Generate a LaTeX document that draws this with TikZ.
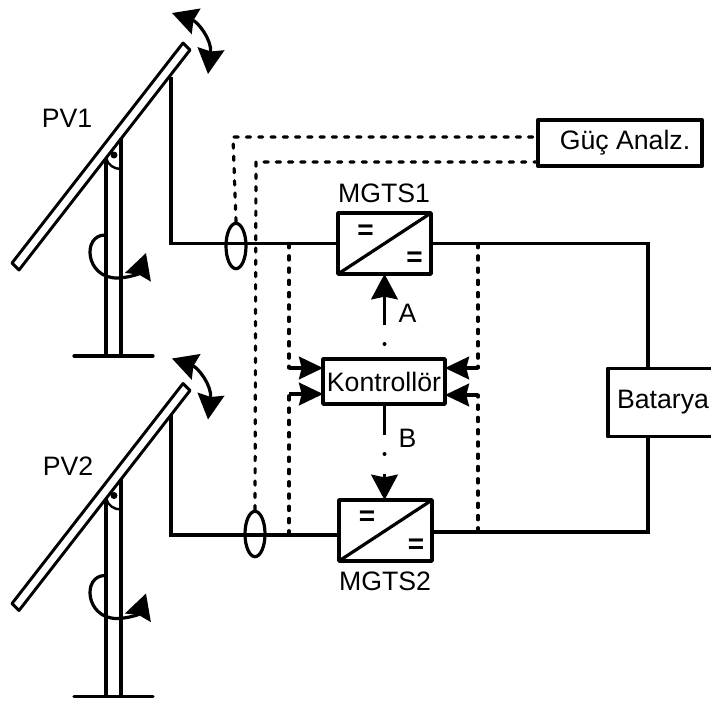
\documentclass[tikz,border=0pt]{standalone}
\usepackage{xcolor}
\usepackage{fontspec}
\setmainfont{Liberation Sans}
\usetikzlibrary{arrows.meta, shapes.geometric}

\tikzset{
    wire/.style={line width=2.4pt},
    sense/.style={line width=2.4pt, line cap=round, dash pattern=on 3.2pt off 6pt},
    bigtip/.style={-{Stealth[length=19pt, width=20pt, inset=2pt]}},
    sidetip/.style={-{Stealth[length=18pt, width=17pt, inset=2pt]}},
    block/.style={draw, line width=2.8pt, line join=round, fill=white, inner sep=0pt, outer sep=0pt, font=\fontsize{20}{20}\selectfont},
    label/.style={font=\fontsize{20}{20}\selectfont, inner sep=0pt},
    eqmark/.style={font=\fontsize{21}{21}\selectfont\bfseries, inner sep=0pt},
    sensor/.style={draw, wire, ellipse, minimum width=15pt, minimum height=34pt, inner sep=0pt}
}

\begin{document}
\begin{tikzpicture}[x=0.75pt, y=-0.75pt]
    \useasboundingbox (0,0) rectangle (711,704);

    % the two panels with their stands
    \foreach \dy/\da in {0/0,340.5/345.5} {
        \draw[wire, line width=2.2pt, line join=round] (183,43+\dy) -- (190,50+\dy) -- (19,270+\dy) -- (12,263+\dy) -- cycle;
        \draw[wire] (106,158+\dy) -- (106,356+\dy);
        \draw[wire] (121,138+\dy) -- (121,356+\dy);
        \draw[wire, line cap=round] (74,356+\dy) -- (153,356+\dy);
        \draw[line width=1.8pt] (106,158+\dy) .. controls (108,165+\dy) and (114,169+\dy) .. (121,169+\dy);
        \fill (114,155+\dy) circle (3.5);
        \draw[wire, bigtip] (105,235+\dy) .. controls (82,235+\dy) and (85,278+\dy) .. (117,278+\dy)
            .. controls (127,278+\dy) and (139,274+\dy) .. (146,253+\dy);
        \draw[wire, {Stealth[length=19pt, width=20pt, inset=2pt]}-{Stealth[length=19pt, width=20pt, inset=2pt]}]
            (172,13+\da) .. controls (198,22+\da) and (212,40+\da) .. (208,74+\da);
    }

    \node[label] (PV1) at (67,118) {PV1};
    \node[label] (PV2) at (68,466) {PV2};

    % blocks
    \node[block, minimum width=69.75pt, minimum height=45.75pt] (mgts1) at (384.5,243.5) {};
    \node[block, minimum width=69.75pt, minimum height=45.75pt] (mgts2) at (385.5,530.5) {};
    \node[block, minimum width=91.5pt, minimum height=33.75pt] (ctrl) at (384,381.5) {Kontrollör};
    \node[block, minimum width=123pt, minimum height=35pt] (guc) at (620,143) {\hspace{7.5pt}Güç Analz.};
    \node[block, minimum width=83pt, minimum height=51pt] (bat) at (663,402.5) {Batarya};

    \draw[wire] (mgts1.south west) -- (mgts1.north east);
    \draw[wire] (mgts2.south west) -- (mgts2.north east);
    \node[eqmark] (eq1a) at (365.5,232) {=};
    \node[eqmark] (eq1b) at (414.5,259) {=};
    \node[eqmark] (eq2a) at (367,518) {=};
    \node[eqmark] (eq2b) at (416,546) {=};

    \node[label] (mgtsa) at (384,193.5) {MGTS1};
    \node[label] (mgtsb) at (385,581.5) {MGTS2};
    \node[label] (sigA) at (407.5,313.5) {A};
    \node[label] (sigB) at (407.5,438) {B};

    % power wires
    \coordinate (top1) at (171,77);
    \coordinate (top2) at (171,415);
    \coordinate (batx) at (648,300);
    \coordinate (wl) at (300,535);
    \coordinate (wr) at (460,532);
    \draw[wire] (top1) |- (mgts1.west);
    \draw[wire] (top2) |- (mgts2.west |- wl);
    \draw[wire, line width=2.8pt] (mgts1.east) -| (batx |- bat.north);
    \draw[wire, line width=2.8pt] (mgts2.east |- wr) -| (batx |- bat.south);

    % current sensors
    \node[sensor] (ct1) at (236,246) {};
    \node[sensor] (ct2) at (255,534) {};

    % measuring lines
    \coordinate (gua) at (233,137);
    \coordinate (gub) at (256,162);
    \draw[sense] (ct1.north) -- (gua) -- (gua -| guc.west);
    \draw[sense] (ct2.north) -- (gub) -- (gub -| guc.west);

    % inputs of the controller
    \coordinate (la) at (289,368);
    \coordinate (lb) at (289,394);
    \coordinate (ra) at (478,368);
    \coordinate (rb) at (478,395);
    \draw[sense] (la |- mgts1.west) -- (la);
    \draw[sense] (lb |- wl) -- (lb);
    \draw[sense] (ra |- mgts1.east) -- (ra);
    \draw[sense] (rb |- wr) -- (rb);
    \draw[wire, sidetip] (la) -- (la -| ctrl.west);
    \draw[wire, sidetip] (lb) -- (lb -| ctrl.west);
    \draw[wire, sidetip] (ra) -- (ra -| ctrl.east);
    \draw[wire, sidetip] (rb) -- (rb -| ctrl.east);

    % control signals
    \coordinate (a1) at (384.5,325);
    \coordinate (b1) at (384.5,435);
    \coordinate (b2) at (384.5,474);
    \draw[wire, bigtip] (a1) -- (a1 |- mgts1.south);
    \draw[wire] (b1 |- ctrl.south) -- (b1);
    \draw[wire, bigtip] (b2) -- (b2 |- mgts2.north);
    \fill (384.5,344) circle (2);
    \fill (384.5,454) circle (2);
\end{tikzpicture}
\end{document}
